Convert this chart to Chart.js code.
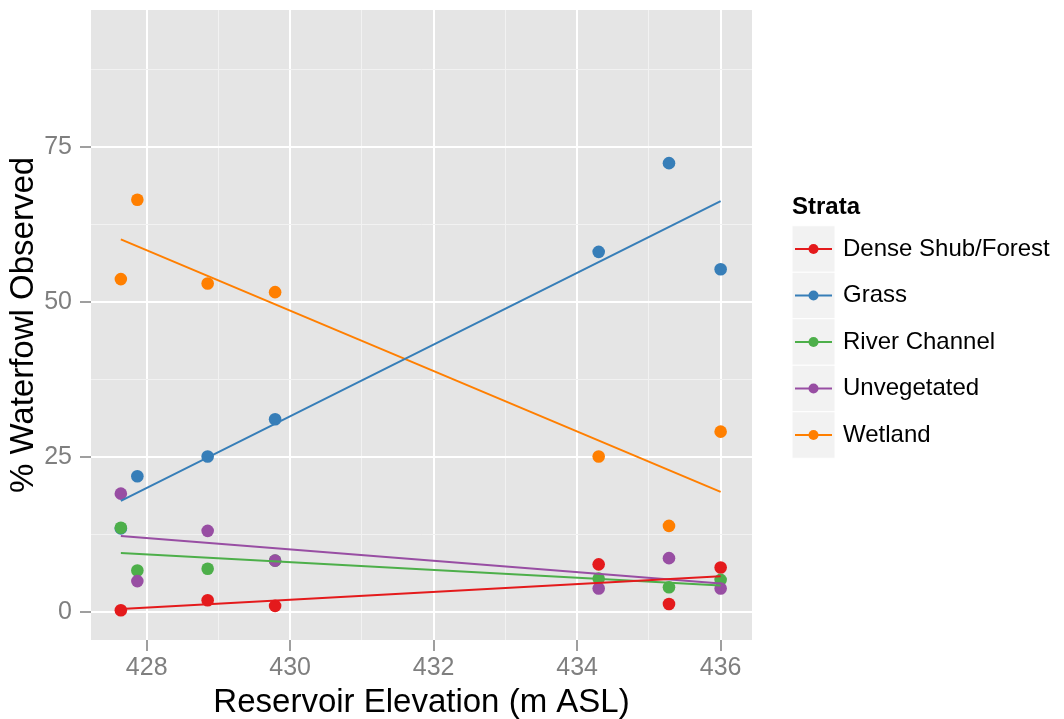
<!DOCTYPE html>
<html>
<head>
<meta charset="utf-8">
<script src="https://cdn.jsdelivr.net/npm/chart.js@4/dist/chart.umd.min.js"></script>
<style>
  body { margin: 0; background: #fff; }
  canvas { display: block; }
</style>
</head>
<body>
<canvas id="waterfowlChart" width="1064" height="719"></canvas>
<script>
// reservoir elevation of each survey (m ASL)
const elevations = [427.64, 427.87, 428.85, 429.79, 434.30, 435.28, 436.0];

// % of waterfowl observed per stratum, one value per survey (null = not recorded)
const denseShrub   = [0.3, null, 1.9, 1.0, 7.7, 1.3, 7.2];
const grass        = [13.5, 21.9, 25.1, 31.1, 58.1, 72.4, 55.3];
const riverChannel = [13.6, 6.7, 7.0, 8.3, 5.4, 4.0, 5.2];
const unvegetated  = [19.1, 5.0, 13.1, 8.3, 3.8, 8.7, 3.8];
const wetland      = [53.7, 66.5, 53.0, 51.6, 25.1, 13.9, 29.1];

const strataNames  = ['Dense Shub/Forest', 'Grass', 'River Channel', 'Unvegetated', 'Wetland'];
const strataValues = [denseShrub, grass, riverChannel, unvegetated, wetland];
const strataColors = ['#e41a1c', '#377eb8', '#4daf4a', '#984ea3', '#ff7f00'];

const xMajorTicks = [428, 430, 432, 434, 436];
const xMinorTicks = [429, 431, 433, 435];
const yMajorTicks = [0, 25, 50, 75];
const yMinorTicks = [12.5, 37.5, 62.5, 87.5];

const FONT = '"Liberation Sans", Arial, Helvetica, sans-serif';

function toPoints(values) {
    const pts = [];
    values.forEach((v, i) => {
        if (v !== null) pts.push({ x: elevations[i], y: v });
    });
    return pts;
}

// least squares fit, like geom_smooth(method = "lm", se = FALSE)
function fitLine(pts) {
    const n = pts.length;
    const mx = pts.reduce((s, p) => s + p.x, 0) / n;
    const my = pts.reduce((s, p) => s + p.y, 0) / n;
    let sxy = 0, sxx = 0;
    pts.forEach(p => {
        sxy += (p.x - mx) * (p.y - my);
        sxx += (p.x - mx) * (p.x - mx);
    });
    const slope = sxy / sxx;
    const x0 = Math.min(...pts.map(p => p.x));
    const x1 = Math.max(...pts.map(p => p.x));
    return [
        { x: x0, y: my + slope * (x0 - mx) },
        { x: x1, y: my + slope * (x1 - mx) }
    ];
}

const datasets = [];
strataValues.forEach((values, i) => {
    const pts = toPoints(values);
    datasets.push({
        label: strataNames[i],
        data: pts,
        backgroundColor: strataColors[i],
        borderColor: strataColors[i],
        borderWidth: 0,
        pointRadius: 6.3,
        showLine: false,
        order: 10 - i
    });
    datasets.push({
        label: strataNames[i] + ' fit',
        data: fitLine(pts),
        borderColor: strataColors[i],
        borderWidth: 2,
        pointRadius: 0,
        showLine: true,
        fill: false,
        order: 0
    });
});

function setTicks(major, minor) {
    return function (scale) {
        scale.ticks = major.concat(minor).sort((a, b) => a - b).map(v => ({ value: v }));
    };
}
const isMajor = (list, v) => list.indexOf(v) !== -1;

const panelBackground = {
    id: 'panelBackground',
    beforeDraw(chart) {
        const { ctx, chartArea: a } = chart;
        ctx.save();
        ctx.fillStyle = '#e5e5e5';
        ctx.fillRect(a.left, a.top, a.right - a.left, a.bottom - a.top);
        ctx.restore();
    }
};

const strataLegend = {
    id: 'strataLegend',
    afterDraw(chart) {
        const ctx = chart.ctx;
        ctx.save();
        ctx.fillStyle = '#000';
        ctx.font = 'bold 24px ' + FONT;
        ctx.textBaseline = 'alphabetic';
        ctx.textAlign = 'left';
        ctx.fillText('Strata', 792, 214);

        const keyLeft = 792, keyW = 43, rowH = 46.5, firstRow = 249;
        strataNames.forEach((name, i) => {
            const cy = firstRow + i * rowH;
            ctx.fillStyle = '#f2f2f2';
            ctx.fillRect(keyLeft, cy - rowH / 2, keyW, rowH);
            ctx.strokeStyle = '#fff';
            ctx.lineWidth = 1;
            ctx.strokeRect(keyLeft, cy - rowH / 2, keyW, rowH);
            ctx.strokeStyle = strataColors[i];
            ctx.lineWidth = 2;
            ctx.beginPath();
            ctx.moveTo(keyLeft + 3, cy);
            ctx.lineTo(keyLeft + keyW - 3, cy);
            ctx.stroke();
            ctx.fillStyle = strataColors[i];
            ctx.beginPath();
            ctx.arc(keyLeft + keyW / 2, cy, 5, 0, Math.PI * 2);
            ctx.fill();
            ctx.fillStyle = '#000';
            ctx.font = '24px ' + FONT;
            ctx.textBaseline = 'middle';
            ctx.fillText(name, 843, cy);
        });
        ctx.restore();
    }
};

new Chart(document.getElementById('waterfowlChart'), {
    type: 'scatter',
    data: { datasets: datasets },
    options: {
        responsive: false,
        animation: false,
        layout: { padding: { top: 10, right: 312, left: 0, bottom: 0 } },
        plugins: {
            legend: { display: false },
            tooltip: { enabled: false }
        },
        scales: {
            x: {
                type: 'linear',
                min: 427.224,
                max: 436.437,
                afterBuildTicks: setTicks(xMajorTicks, xMinorTicks),
                afterFit(scale) {
                    scale.height = 79;
                    scale.paddingLeft = 0;
                    scale.paddingRight = 0;
                },
                border: { display: false },
                grid: {
                    color: c => isMajor(xMajorTicks, c.tick.value) ? '#ffffff' : '#f2f2f2',
                    lineWidth: c => isMajor(xMajorTicks, c.tick.value) ? 2 : 1,
                    tickColor: c => isMajor(xMajorTicks, c.tick.value) ? '#7f7f7f' : 'rgba(0,0,0,0)',
                    tickWidth: 1.5,
                    tickLength: 11
                },
                ticks: {
                    autoSkip: false,
                    maxRotation: 0,
                    padding: 5,
                    color: '#7f7f7f',
                    font: { family: FONT, size: 25, lineHeight: 1 },
                    callback: v => isMajor(xMajorTicks, v) ? String(v) : ''
                },
                title: {
                    display: true,
                    text: 'Reservoir Elevation (m ASL)',
                    color: '#000',
                    font: { family: FONT, size: 33, lineHeight: 1 },
                    padding: { top: 0, bottom: 0 }
                }
            },
            y: {
                type: 'linear',
                min: -4.5,
                max: 97.1,
                afterBuildTicks: setTicks(yMajorTicks, yMinorTicks),
                afterFit(scale) {
                    scale.width = 91;
                    scale.paddingTop = 0;
                    scale.paddingBottom = 0;
                },
                border: { display: false },
                grid: {
                    color: c => isMajor(yMajorTicks, c.tick.value) ? '#ffffff' : '#f2f2f2',
                    lineWidth: c => isMajor(yMajorTicks, c.tick.value) ? 2 : 1,
                    tickColor: c => isMajor(yMajorTicks, c.tick.value) ? '#7f7f7f' : 'rgba(0,0,0,0)',
                    tickWidth: 1.5,
                    tickLength: 11
                },
                ticks: {
                    autoSkip: false,
                    padding: 8,
                    color: '#7f7f7f',
                    font: { family: FONT, size: 25, lineHeight: 1 },
                    callback: v => isMajor(yMajorTicks, v) ? String(v) : ''
                },
                title: {
                    display: true,
                    text: '% Waterfowl Observed',
                    color: '#000',
                    font: { family: FONT, size: 33, lineHeight: 1 },
                    padding: { top: 7, bottom: 0 }
                }
            }
        }
    },
    plugins: [panelBackground, strataLegend]
});
</script>
</body>
</html>
